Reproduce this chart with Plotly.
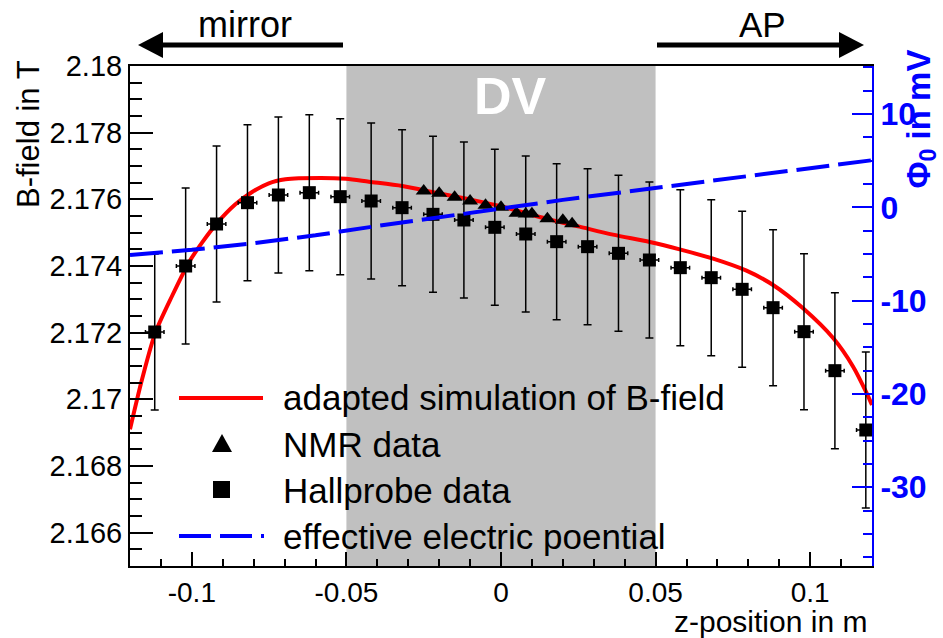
import plotly.graph_objects as go

# Hall probe measurements: position (m), field (T), uncertainties
hall_z = [-0.112, -0.102, -0.092, -0.082, -0.072, -0.062, -0.052, -0.042,
          -0.032, -0.022, -0.012, -0.002, 0.008, 0.018, 0.028, 0.038,
          0.048, 0.058, 0.068, 0.078, 0.088, 0.098, 0.108, 0.118]
hall_b = [2.17202, 2.17400, 2.17526, 2.17590, 2.17613, 2.17620, 2.17608, 2.17595,
          2.17575, 2.17555, 2.17538, 2.17516, 2.17496, 2.17473, 2.17458, 2.17438,
          2.17418, 2.17395, 2.17365, 2.17330, 2.17275, 2.17203, 2.17086, 2.16908]
hall_db = [0.00234] * len(hall_z)
hall_dz = [0.003] * len(hall_z)

# NMR measurements
nmr_z = [-0.025, -0.020, -0.015, -0.010, -0.005, 0.000, 0.005, 0.008,
         0.010, 0.015, 0.020, 0.023]
nmr_b = [2.17625, 2.17618, 2.17606, 2.17595, 2.17582, 2.17576, 2.17558, 2.17556,
         2.17557, 2.17542, 2.17537, 2.17527]

# adapted field simulation
sim_z = [-0.1200, -0.1161, -0.1118, -0.1064, -0.1010, -0.0967, -0.0917, -0.0859,
         -0.0805, -0.0751, -0.0697, -0.0654, -0.0502, -0.0427, -0.0319, -0.0211,
         -0.0103, 0.0005, 0.0146, 0.0254, 0.0362, 0.0481, 0.0578,
         0.0686, 0.0794, 0.0880, 0.0977, 0.1075, 0.1139, 0.1183, 0.1200]
sim_b = [2.16910, 2.17060, 2.17200, 2.17310, 2.17410, 2.17470, 2.17530, 2.17585,
         2.17622, 2.17648, 2.17660, 2.17663, 2.17662, 2.17653, 2.17640, 2.17620,
         2.17600, 2.17578, 2.17542, 2.17518, 2.17494, 2.17472, 2.17450,
         2.17422, 2.17386, 2.17343, 2.17273, 2.17183, 2.17098, 2.17018, 2.16983]

# effective electric potential (mV)
phi_z = [-0.12, -0.10, -0.08, -0.06, -0.04, -0.02, 0.00, 0.02, 0.04, 0.06, 0.08, 0.10, 0.12]
phi_mv = [-5.1, -4.55, -3.85, -3.0, -2.0, -1.05, -0.1, 0.8, 1.65, 2.45, 3.35, 4.2, 5.05]

x_ticks = [-0.1, -0.05, 0, 0.05, 0.1]
x_labels = ["-0.1", "-0.05", "0", "0.05", "0.1"]
y_ticks = [2.166, 2.168, 2.170, 2.172, 2.174, 2.176, 2.178, 2.180]
y_labels = ["2.166", "2.168", "2.17", "2.172", "2.174", "2.176", "2.178", "2.18"]
phi_ticks = [-30, -20, -10, 0, 10]
phi_labels = ["-30", "-20", "-10", "0", "10"]

legend_labels = ["adapted simulation of B-field", "NMR data", "Hallprobe data",
                 "effective electric poential"]

FONT = "Liberation Sans, Arial, Helvetica, sans-serif"
BLUE = "#0000ff"
RED = "#ff0000"

W, H = 943, 638
L, R, T, B = 130, 71, 66, 72
PW, PH = W - L - R, H - T - B


def px(x):
    return (x - L) / PW


def py(y):
    return (H - B - y) / PH


fig = go.Figure()

fig.add_trace(go.Scatter(
    x=sim_z, y=sim_b, mode="lines",
    line=dict(color=RED, width=4, shape="spline", smoothing=0.8), showlegend=False))

fig.add_trace(go.Scatter(
    x=phi_z, y=phi_mv, yaxis="y2", mode="lines",
    line=dict(color=BLUE, width=4, dash="33px,9px"), showlegend=False))

fig.add_trace(go.Scatter(
    x=hall_z, y=hall_b, mode="markers",
    marker=dict(symbol="square", size=13, color="black"),
    error_y=dict(type="data", array=hall_db, color="black", thickness=1.5, width=4),
    error_x=dict(type="data", array=hall_dz, color="black", thickness=1.5, width=2),
    showlegend=False))

fig.add_trace(go.Scatter(
    x=nmr_z, y=nmr_b, mode="markers",
    marker=dict(symbol="triangle-up", size=14, color="black"),
    showlegend=False))

shapes = [
    # detection volume band
    dict(type="rect", xref="x", yref="paper", x0=-0.05, x1=0.05, y0=0, y1=1,
         fillcolor="#c0c0c0", line=dict(width=0), layer="below"),
    # "mirror" arrow
    dict(type="line", xref="paper", yref="paper", x0=px(343), x1=px(158),
         y0=py(45), y1=py(45), line=dict(color="black", width=5)),
    dict(type="path", xref="paper", yref="paper",
         path=f"M {px(138)} {py(45)} L {px(163)} {py(32)} L {px(163)} {py(58)} Z",
         fillcolor="black", line=dict(width=0)),
    # "AP" arrow
    dict(type="line", xref="paper", yref="paper", x0=px(657), x1=px(844),
         y0=py(45), y1=py(45), line=dict(color="black", width=5)),
    dict(type="path", xref="paper", yref="paper",
         path=f"M {px(864)} {py(45)} L {px(839)} {py(32)} L {px(839)} {py(58)} Z",
         fillcolor="black", line=dict(width=0)),
]

# legend keys
leg_rows = [398, 444, 490, 536]
shapes.append(dict(type="line", xref="paper", yref="paper", x0=px(179), x1=px(263),
                   y0=py(leg_rows[0]), y1=py(leg_rows[0]), line=dict(color=RED, width=4)))
shapes.append(dict(type="path", xref="paper", yref="paper",
                   path=(f"M {px(212)} {py(leg_rows[1] + 8)} L {px(232)} {py(leg_rows[1] + 8)} "
                         f"L {px(222)} {py(leg_rows[1] - 10)} Z"),
                   fillcolor="black", line=dict(width=0)))
shapes.append(dict(type="rect", xref="paper", yref="paper",
                   x0=px(213), x1=px(230), y0=py(leg_rows[2] + 8), y1=py(leg_rows[2] - 9),
                   fillcolor="black", line=dict(width=0)))
for a, b in [(179, 211), (220, 252), (261, 264)]:
    shapes.append(dict(type="line", xref="paper", yref="paper", x0=px(a), x1=px(b),
                       y0=py(leg_rows[3]), y1=py(leg_rows[3]), line=dict(color=BLUE, width=4)))

annotations = [
    dict(text="mirror", x=px(245), y=py(25), xref="paper", yref="paper",
         xanchor="center", yanchor="middle", showarrow=False,
         font=dict(family=FONT, size=36, color="black")),
    dict(text="AP", x=px(762), y=py(25), xref="paper", yref="paper",
         xanchor="center", yanchor="middle", showarrow=False,
         font=dict(family=FONT, size=35, color="black")),
    dict(text="<b>DV</b>", x=px(510), y=py(96), xref="paper", yref="paper",
         xanchor="center", yanchor="middle", showarrow=False,
         font=dict(family=FONT, size=52, color="white")),
    dict(text="B-field in T", x=px(28), y=py(58), xref="paper", yref="paper",
         textangle=-90, xanchor="center", yanchor="top", showarrow=False,
         font=dict(family=FONT, size=31, color="black")),
    dict(text="<b>Φ<sub>0</sub> in mV</b>", x=px(921), y=py(48), xref="paper", yref="paper",
         textangle=-90, xanchor="center", yanchor="top", showarrow=False,
         font=dict(family=FONT, size=33, color=BLUE)),
    dict(text="z-position in m", x=px(869), y=py(621), xref="paper", yref="paper",
         xanchor="right", yanchor="middle", showarrow=False,
         font=dict(family=FONT, size=30, color="black")),
]
for label, row in zip(legend_labels, leg_rows):
    annotations.append(dict(text=label, x=px(281), y=py(row), xref="paper", yref="paper",
                            xanchor="left", yanchor="middle", showarrow=False,
                            font=dict(family=FONT, size=35, color="black")))

fig.update_layout(
    width=W, height=H, autosize=False,
    margin=dict(l=L, r=R, t=T, b=B, pad=0),
    paper_bgcolor="white", plot_bgcolor="white",
    shapes=shapes, annotations=annotations,
    xaxis=dict(
        range=[-0.12, 0.12], tickvals=x_ticks, ticktext=x_labels,
        ticks="inside", ticklen=14, tickwidth=2, tickcolor="black",
        minor=dict(dtick=0.01, tick0=0, ticks="inside", ticklen=7, tickwidth=2, tickcolor="black"),
        showline=True, linecolor="black", linewidth=2, mirror=True,
        showgrid=False, zeroline=False,
        tickfont=dict(family=FONT, size=28, color="black"),
    ),
    yaxis=dict(
        range=[2.165, 2.180], tickvals=y_ticks, ticktext=y_labels,
        ticks="inside", ticklen=23, tickwidth=2, tickcolor="black",
        minor=dict(dtick=0.0005, tick0=2.165, ticks="inside", ticklen=12, tickwidth=2,
                   tickcolor="black"),
        showline=True, linecolor="black", linewidth=2,
        showgrid=False, zeroline=False,
        tickfont=dict(family=FONT, size=29, color="black"),
    ),
    yaxis2=dict(
        overlaying="y", side="right", range=[-38.45, 15.15],
        tickvals=phi_ticks, ticktext=phi_labels,
        ticks="inside", ticklen=20, tickwidth=2, tickcolor=BLUE,
        minor=dict(dtick=2.5, tick0=0, ticks="inside", ticklen=9, tickwidth=2, tickcolor=BLUE),
        showline=True, linecolor=BLUE, linewidth=2,
        showgrid=False, zeroline=False,
        tickfont=dict(family=FONT, size=32, color=BLUE, weight="bold"),
    ),
)

fig.write_html("out.html")
